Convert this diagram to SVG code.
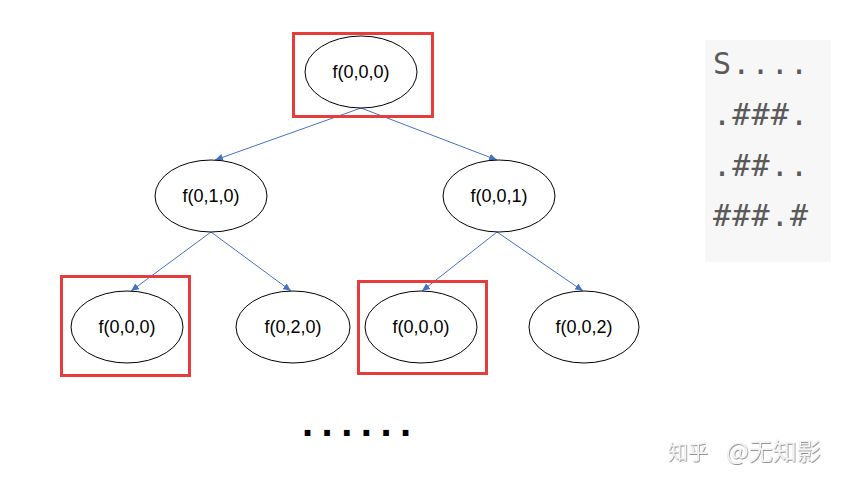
<svg xmlns="http://www.w3.org/2000/svg" width="849" height="485" viewBox="0 0 849 485">
<style>
.node ellipse{fill:#fff;stroke:#000;stroke-width:1}
.node text{font-family:"Liberation Sans",Arial,sans-serif;font-size:18px;fill:#000;text-anchor:middle}
.hl{fill:none;stroke:#e63c3c;stroke-width:3}
.edge{stroke:#4472c4;stroke-width:1;fill:none;marker-end:url(#arr)}
.grid{font-family:"DejaVu Sans Mono","Liberation Mono",monospace;font-size:30px;fill:#5a5a5a;letter-spacing:1.2px}
</style>
<defs>
<marker id="arr" markerUnits="userSpaceOnUse" markerWidth="9" markerHeight="8" refX="8" refY="3.5" orient="auto">
<path d="M0,0 L8,3.5 L0,7 z" fill="#4472c4"/>
</marker>
<filter id="sh" x="-10%" y="-30%" width="120%" height="160%">
<feDropShadow dx="0.6" dy="0.8" stdDeviation="0.6" flood-color="#777"/>
</filter>
</defs>
<rect width="849" height="485" fill="#fff"/>
<g id="connectors">
<line class="edge" x1="361" y1="108" x2="215" y2="160"/>
<line class="edge" x1="361" y1="108" x2="497" y2="160"/>
<line class="edge" x1="211" y1="232" x2="131" y2="291"/>
<line class="edge" x1="211" y1="232" x2="291" y2="291"/>
<line class="edge" x1="497" y1="232" x2="422" y2="291"/>
<line class="edge" x1="497" y1="232" x2="583" y2="291"/>
</g>
<g id="n_root" class="node">
<ellipse cx="361" cy="72" rx="56" ry="36"/>
<text x="361" y="78">f(0,0,0)</text>
<rect class="hl" x="293.5" y="33.5" width="139" height="83"/>
</g>
<g id="n_010" class="node">
<ellipse cx="211" cy="196" rx="56" ry="36"/>
<text x="211" y="202">f(0,1,0)</text>
</g>
<g id="n_001" class="node">
<ellipse cx="499" cy="196" rx="56" ry="36"/>
<text x="499" y="202">f(0,0,1)</text>
</g>
<g id="n_000a" class="node">
<ellipse cx="127" cy="327" rx="56" ry="36"/>
<text x="127" y="333">f(0,0,0)</text>
<rect class="hl" x="61.5" y="276.5" width="128" height="99"/>
</g>
<g id="n_020" class="node">
<ellipse cx="293" cy="327" rx="57" ry="36"/>
<text x="293" y="333">f(0,2,0)</text>
</g>
<g id="n_000b" class="node">
<ellipse cx="421" cy="327" rx="56" ry="36"/>
<text x="421" y="333">f(0,0,0)</text>
<rect class="hl" x="358.5" y="281.5" width="128" height="92"/>
</g>
<g id="n_002" class="node">
<ellipse cx="584" cy="327" rx="55" ry="36"/>
<text x="584" y="333">f(0,0,2)</text>
</g>
<text x="302" y="436" font-family="Liberation Sans,Arial,sans-serif" font-weight="bold" font-size="40" letter-spacing="8.5" fill="#000">......</text>
<g id="grid">
<rect x="705" y="40" width="126" height="222" fill="#f7f7f7"/>
<text class="grid" x="713" y="74">S....</text>
<text class="grid" x="713" y="125">.###.</text>
<text class="grid" x="713" y="176">.##..</text>
<text class="grid" x="713" y="226">###.#</text>
</g>
<text x="668" y="460" font-family="Noto Sans CJK SC,sans-serif" fill="#f4f4f4" filter="url(#sh)"><tspan font-size="20">知乎</tspan><tspan x="726" font-size="24">@无知影</tspan></text>
</svg>
